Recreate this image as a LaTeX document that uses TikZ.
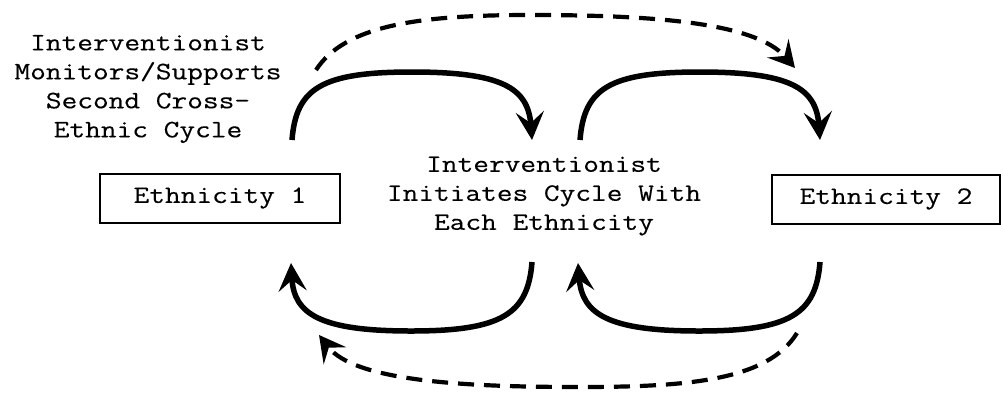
\documentclass[tikz,border=0pt]{standalone}
\usepackage{fontspec}
\setmainfont[FakeStretch=1.22,FakeBold=0.3]{Latin Modern Mono}
\usetikzlibrary{arrows.meta}
\begin{document}
\begin{tikzpicture}[x=1pt,y=-1pt,
  every node/.style={font=\fontsize{25}{29}\selectfont, inner sep=0pt},
  ethbox/.style={draw, line width=2pt, minimum height=49pt},
  solidarrow/.style={line width=5.5pt, -{Stealth[length=28pt,width=28pt,inset=11pt]}},
  dasharrow/.style={line width=4.2pt, dash pattern=on 16pt off 10pt, -{Stealth[length=26pt,width=28pt,inset=10pt]}}]
\useasboundingbox (0,0) rectangle (1003,392);
\node[ethbox, minimum width=240pt] (e1) at (220,198) {Ethnicity 1};
\node[ethbox, minimum width=228pt] (e2) at (886,199) {Ethnicity 2};
\node[align=center] (mon) at (148,89) {Interventionist\\Monitors/Supports\\Second Cross-\\Ethnic Cycle};
\node[align=center] (ini) at (544,196) {Interventionist\\Initiates Cycle With\\Each Ethnicity};
% endpoints
\coordinate (a1s) at (292,140); \coordinate (a1e) at (532,140);
\coordinate (a2s) at (580,140); \coordinate (a2e) at (820,140);
\coordinate (b1s) at (532,262); \coordinate (b1e) at (291,263);
\coordinate (b2s) at (820,262); \coordinate (b2e) at (578,263);
\coordinate (d1s) at (316,70);  \coordinate (d1e) at (795,68);
\coordinate (d2s) at (797,333); \coordinate (d2e) at (319,335);
% solid arrows
\draw[solidarrow] (a1s) .. controls (296,88) and (322,72) .. (412,72)
                        .. controls (502,72) and (528,88) .. (a1e);
\draw[solidarrow] (a2s) .. controls (584,88) and (610,72) .. (700,72)
                        .. controls (790,72) and (816,88) .. (a2e);
\draw[solidarrow] (b1s) .. controls (528,314) and (502,331) .. (411,331)
                        .. controls (320,331) and (294,314) .. (b1e);
\draw[solidarrow] (b2s) .. controls (816,314) and (790,331) .. (699,331)
                        .. controls (608,331) and (582,314) .. (b2e);
% dashed arrows
\draw[dasharrow] (d1s) .. controls (345,25) and (420,15) .. (530,15)
                       .. controls (650,15) and (755,22) .. (d1e);
\draw[dasharrow] (d2s) .. controls (768,380) and (690,387) .. (580,387)
                       .. controls (470,387) and (355,382) .. (d2e);
\end{tikzpicture}
\end{document}
